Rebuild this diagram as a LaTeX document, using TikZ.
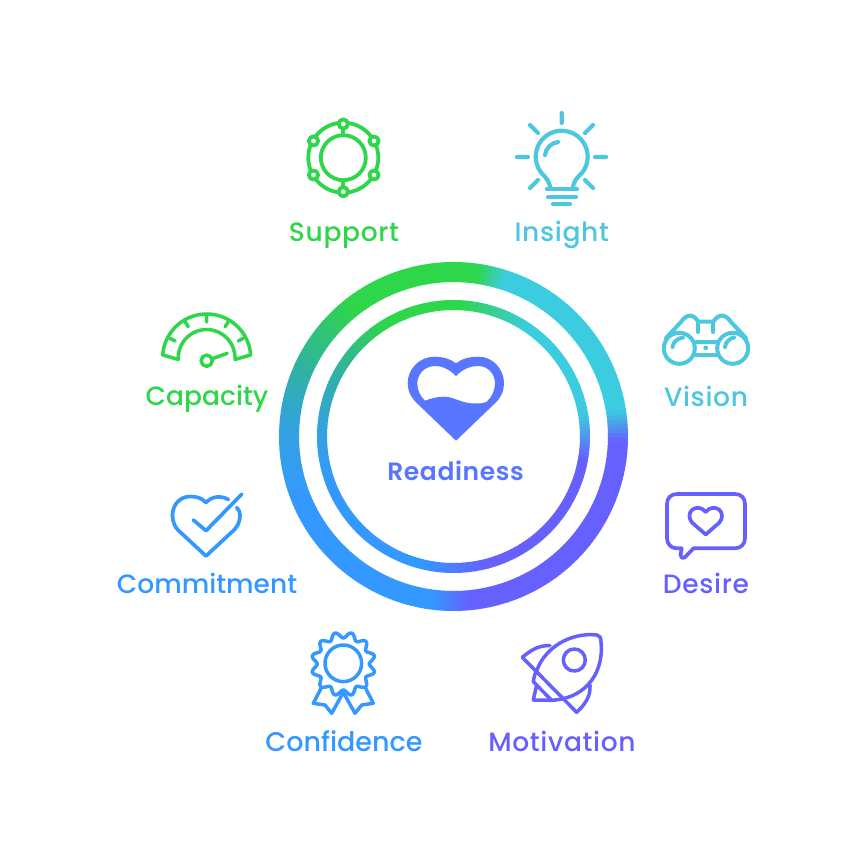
\documentclass[tikz,border=0pt]{standalone}
\usepackage{fontspec}
\newfontfamily\lblfont{Poppins Medium}
\newfontfamily\lblwide{Poppins Medium}[LetterSpace=2.5]
\newfontfamily\rdyfont{Poppins SemiBold}[LetterSpace=2.5]
\definecolor{cgreen}{HTML}{2ED64A}
\definecolor{ccyan}{HTML}{4DC6E0}
\definecolor{rcyan}{HTML}{3BCCE0}
\definecolor{cblue}{HTML}{3399FF}
\definecolor{cpurple}{HTML}{6660FF}
\definecolor{cready}{HTML}{5876FF}
\definecolor{rteal}{HTML}{30B39F}
\definecolor{rsky}{HTML}{33A3DC}
\tikzset{
  icon/.style={line width=3.7pt,line cap=round,line join=round,color=#1},
  lbl/.style={anchor=base,font=\lblfont\fontsize{26.5}{30}\selectfont,text=#1,inner sep=0pt},
  lblw/.style={anchor=base,font=\lblwide\fontsize{26.5}{30}\selectfont,text=#1,inner sep=0pt},
}
\newcommand{\gradring}[3]{%
  \foreach \a/\b/\ca/\cb in {#3}{%
    \pgfmathtruncatemacro{\n}{max(1,(\b-\a)/1.5)}%
    \foreach \s in {1,...,\n}{%
      \pgfmathsetmacro{\t}{100*(\s-0.5)/\n}%
      \pgfmathsetmacro{\p}{90-\a-(\s-1)*(\b-\a)/\n}%
      \pgfmathsetmacro{\q}{\p-(\b-\a)/\n-0.3}%
      \draw[line width=#2pt,color=\cb!\t!\ca] (453.5,436.5) ++(\p:#1pt) arc[start angle=\p,end angle=\q,radius=#1pt];
    }%
  }%
}
\begin{document}
\begin{tikzpicture}[x=1pt,y=-1pt]
\fill[white] (0,0) rectangle (864,864);
\useasboundingbox (0,0) rectangle (864,864);
% rings
\gradring{164.5}{20}{-38/8/cgreen/cgreen,8/18/cgreen/rcyan,18/81/rcyan/rcyan,81/92/rcyan/cpurple,92/174/cpurple/cpurple,174/188/cpurple/cblue,188/247/cblue/cblue,247/275/cblue/rsky,275/295/rsky/rteal,295/322/rteal/cgreen}
\gradring{131.5}{10}{-30/2/cgreen/cgreen,2/35/cgreen/rcyan,35/80/rcyan/rcyan,80/100/rcyan/cpurple,100/165/cpurple/cpurple,165/195/cpurple/cblue,195/247/cblue/cblue,247/275/cblue/rsky,275/300/rsky/rteal,300/330/rteal/cgreen}
% centre heart
\fill[cready,even odd rule]
  (456,363.3) .. controls (450,358.5) and (442,356.7) .. (435,356.7)
  .. controls (419,356.7) and (407.7,369) .. (407.7,383.3)
  .. controls (407.7,391) and (411,398) .. (418.3,404.5)
  -- (456,440.7) -- (493.7,404.5)
  .. controls (501,398) and (504,391) .. (504,383.3)
  .. controls (504,369) and (493,356.7) .. (478.3,356.7)
  .. controls (470,356.7) and (462,358.5) .. (456,363.3) -- cycle
  (456,376) .. controls (450,370) and (443,366) .. (435,366)
  .. controls (425,366) and (417.3,374) .. (417.3,383.3)
  .. controls (417.3,390) and (420,396) .. (425,400.7)
  .. controls (432,398) and (438,396.7) .. (444,396.7)
  .. controls (455,396.7) and (460,403.5) .. (476,403.5)
  .. controls (480,403.5) and (484,403.2) .. (486.7,401.7)
  .. controls (492,397) and (495,390) .. (495,383.3)
  .. controls (495,374) and (488,366) .. (478.3,366)
  .. controls (469,366) and (462,370) .. (456,376) -- cycle;
\node[lbl=cready,font=\rdyfont\fontsize{25}{30}\selectfont] (readiness) at (455.5,480) {Readiness};
% Support
\begin{scope}[icon=cgreen,line width=3.8pt]
  \draw (343.3,157.7) circle[radius=22.5pt];
  \draw (343.3,157.7) circle[radius=35pt];
  \draw (343.3,124) -- (343.3,135) (343.3,181) -- (343.3,192);
  \foreach \px/\py in {343.3/124,374/141,374/175,343.3/191.7,313.5/175,313.5/141}
    \draw[fill=white] (\px,\py) circle[radius=4.6pt];
\end{scope}
\node[lblw=cgreen] (support) at (344,241) {Support};
% Insight
\begin{scope}[icon=ccyan,line width=4.2pt]
  \draw (550,189) .. controls (550,181) and (546,178) .. (541.2,172.7)
    arc[start angle=218,end angle=-38,radius=26pt]
    .. controls (577,178) and (573,181) .. (573,189);
  \draw (547,189) -- (577,189) (548,197) -- (576,197) (553,204) -- (570,204);
  \draw (545,155) .. controls (546,148) and (551,143) .. (558,142);
  \draw (561.7,113) -- (561.7,123) (585,133) -- (593,125) (595,157) -- (606,157)
        (585,180) -- (593,188) (517,157) -- (528,157) (530,125) -- (538,133) (530,188) -- (538,180);
\end{scope}
\node[lblw=ccyan] (insight) at (561.7,241) {Insight};
% Capacity
\begin{scope}[icon=cgreen,line width=3.5pt]
  \draw (162.7,355) arc[start angle=176,end angle=4,radius=44.1pt] -- (235,359.4)
    arc[start angle=-3,end angle=183,radius=28.4pt] -- cycle;
  \draw (206.7,314) -- (206.7,322) (185,321.7) -- (188.3,326.7) (228.4,321.7) -- (225.1,326.7)
        (170,338.3) -- (175,341) (243.3,338.3) -- (238.3,341);
  \draw (206.7,360.7) circle[radius=5.6pt];
  \draw (212.5,358.6) -- (227.3,353.3);
\end{scope}
\node[lbl=cgreen] (capacity) at (207,405) {Capacity};
% Commitment
\begin{scope}[icon=cblue]
  \draw (228.5,499.5) .. controls (221,495.5) and (212,496) .. (206,502.5)
    .. controls (201,497.5) and (196,496.5) .. (190,496.5)
    .. controls (180,496.5) and (172.5,505) .. (172.5,515)
    .. controls (172.5,522) and (175,527) .. (178,530)
    -- (206,556) -- (234,530)
    .. controls (238,526) and (240,521) .. (240,515)
    .. controls (240,512) and (239,510) .. (236.7,507.5);
  \draw (193.3,520) -- (206,530.7) -- (241.7,494.3);
\end{scope}
\node[lbl=cblue] (commitment) at (207,593) {Commitment};
% Vision
\begin{scope}[icon=ccyan,line width=4pt]
  \draw (679.3,348.3) circle[radius=15.5pt] (732.7,348.3) circle[radius=15.5pt];
  \draw (672.5,347) .. controls (673,342) and (677,338.5) .. (683,337.5);
  \draw (725,347) .. controls (725.5,342) and (729.5,338.5) .. (734,337.5);
  \draw (666,338) -- (681,322) .. controls (687,313.5) and (693,313.5) .. (698.3,321.7)
     -- (713.3,321.7) .. controls (718.5,313.5) and (725,313.5) .. (731,322) -- (746,338);
  \draw (698.3,321.7) -- (698.3,332) (713.3,321.7) -- (713.3,332);
  \draw (694.5,341.7) -- (717.5,341.7) (694.5,355) -- (717.5,355);
  \fill (705.7,347.8) circle[radius=2.4pt];
\end{scope}
% Desire
\begin{scope}[icon=cpurple]
  \draw (681.7,548.3) -- (676.7,548.3) .. controls (671,548.3) and (667,544) .. (667,538)
    -- (667,504) .. controls (667,498) and (671,494) .. (677,494)
    -- (735,494) .. controls (741,494) and (745,498) .. (745,504)
    -- (745,538) .. controls (745,544) and (741,548.3) .. (735,548.3)
    -- (693.5,548.3) -- (685.5,556.7) .. controls (683,559) and (680,557.5) .. (680.5,555) -- cycle;
  \draw (705.7,512) .. controls (702,507) and (696,507) .. (692.5,509.5)
    .. controls (688,513) and (689,519) .. (692,522.5)
    -- (705.7,534.5) -- (719.4,522.5)
    .. controls (722.4,519) and (723.4,513) .. (719,509.5)
    .. controls (715.4,507) and (709.4,507) .. (705.7,512) -- cycle;
\end{scope}
\node[lblw=ccyan] (vision) at (706,406) {Vision};
\node[lblw=cpurple] (desire) at (706,593) {Desire};
% Confidence
\begin{scope}[icon=cblue,line width=3.5pt]
  \draw (343.3,663.3) circle[radius=18.3pt];
  \draw plot[samples=145,domain=0:360,variable=\x] ({343.3+(29+3*cos(12*\x+180))*cos(\x)},{664+(29+3*cos(12*\x+180))*sin(\x)}) -- cycle;
  \draw (320.7,689) -- (313.3,703.3) -- (325,705) -- (331.7,713.3) -- (343.3,692.3)
     -- (355,713.3) -- (361.7,705) -- (373.3,703.3) -- (366,689);
\end{scope}
\node[lbl=cblue,font=\lblfont\fontsize{27}{30}\selectfont] (confidence) at (344,751) {Confidence};
% Motivation
\begin{scope}[icon=cpurple,line width=3.5pt]
  \draw (522.3,657.3) -- (576.7,712.3) .. controls (583,706) and (591,698) .. (590,685);
  \draw (522.3,657.3) .. controls (530,651) and (538,645) .. (550,645.7);
  \draw (537,670) .. controls (545,648) and (570,632) .. (597,635)
     .. controls (600,635.5) and (601,638) .. (601,642)
     .. controls (604,668) and (590,698) .. (551.7,700.3)
     -- (533.3,681.7) .. controls (534,677) and (535,673) .. (537,670);
  \draw (536.7,685) -- (533.3,700) -- (551.7,700.3);
  \draw (574.3,660) circle[radius=11pt];
\end{scope}
\node[lblw=cpurple] (motivation) at (562,751) {Motivation};
\end{tikzpicture}
\end{document}
